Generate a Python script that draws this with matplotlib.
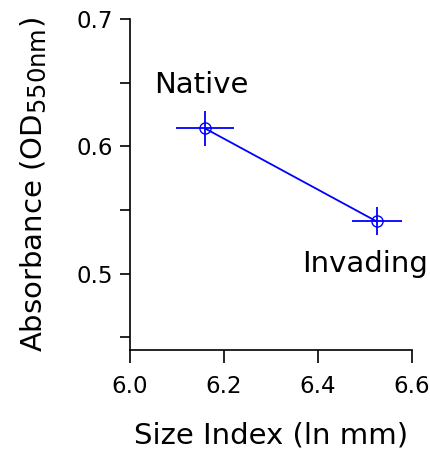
import matplotlib
matplotlib.use("Agg")
import matplotlib.pyplot as plt
import matplotlib._mathtext as mathtext_internal
from matplotlib.ticker import MultipleLocator

# subscript in the reference is drawn larger than mathtext's default 0.7
mathtext_internal.SHRINK_FACTOR = 0.83

# Data
groups = ["Native", "Invading"]
size_index = [6.16, 6.525]
size_err = [0.062, 0.053]
absorbance = [0.614, 0.541]
absorbance_err = [0.0135, 0.011]

fig = plt.figure(figsize=(4.3, 4.5), dpi=100)
ax = fig.add_axes([0.302, 0.222, 0.656, 0.736])

ax.errorbar(size_index, absorbance, xerr=size_err, yerr=absorbance_err,
            color="blue", ecolor="blue", elinewidth=1.3, linewidth=1.3,
            marker="o", markersize=8, markerfacecolor="none",
            markeredgecolor="blue", markeredgewidth=1.0, capsize=0)

# Group labels
ax.text(6.153, 0.642, groups[0], fontsize=21, ha="center", va="baseline")
ax.text(6.50, 0.501, groups[1], fontsize=21, ha="center", va="baseline")

ax.set_xlim(6.0, 6.6)
ax.set_ylim(0.44, 0.7)
ax.xaxis.set_major_locator(MultipleLocator(0.2))
ax.yaxis.set_major_locator(MultipleLocator(0.1))
ax.yaxis.set_minor_locator(MultipleLocator(0.05))
ax.xaxis.set_major_formatter(plt.FormatStrFormatter("%.1f"))
ax.yaxis.set_major_formatter(plt.FormatStrFormatter("%.1f"))

for side in ["top", "right"]:
    ax.spines[side].set_visible(False)
for side in ["left", "bottom"]:
    ax.spines[side].set_linewidth(1.2)

ax.tick_params(axis="both", which="both", direction="out", width=1.2,
               labelsize=16.5)
ax.tick_params(axis="x", which="major", length=9, pad=9)
ax.tick_params(axis="y", which="major", length=7, pad=5)
ax.tick_params(axis="y", which="minor", length=7)

ax.set_xlabel("Size Index (ln mm)", fontsize=21, labelpad=17)
ax.set_ylabel(r"Absorbance (OD$_{\mathrm{550nm}}$)", fontsize=21, labelpad=20)

fig.savefig("out.png", dpi=100)
